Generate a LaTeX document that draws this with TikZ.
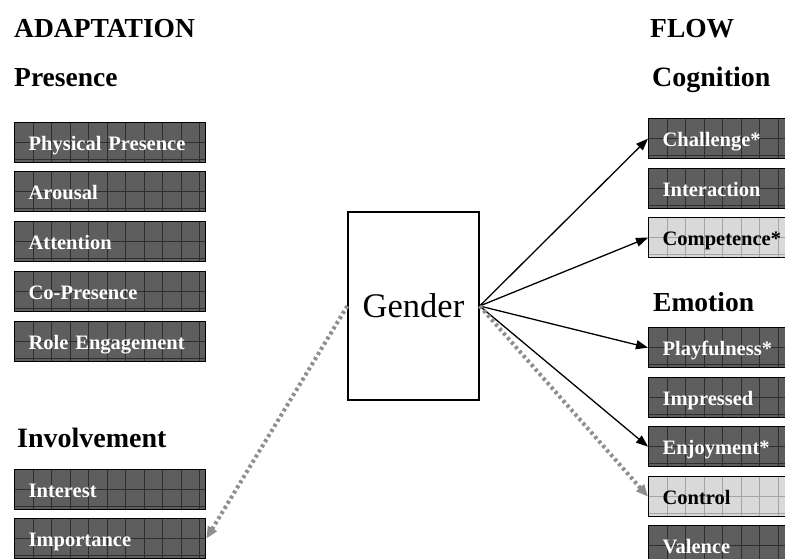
\documentclass[tikz,border=0pt]{standalone}
\usepackage{fontspec}
\setmainfont{Liberation Serif}
\usepackage{tikz}
\usetikzlibrary{arrows.meta}

\definecolor{boxdark}{HTML}{5E5E5E}
\definecolor{griddark}{HTML}{2E2E2E}
\definecolor{boxlight}{HTML}{D9D9D9}
\definecolor{gridlight}{HTML}{A4A4A4}
\definecolor{dotgray}{HTML}{8E8E8E}

\newcommand\gridlines[1]{%
  \foreach \i in {1,...,11}
    \draw[#1, line width=0.7pt] ([xshift=\i*18.5pt]path picture bounding box.north west)
      -- ([xshift=\i*18.5pt]path picture bounding box.south west);
  \draw[#1, line width=0.7pt] (path picture bounding box.west) -- (path picture bounding box.east);
  \draw[#1, line width=0.7pt] ([yshift=3pt]path picture bounding box.south west)
    -- ([yshift=3pt]path picture bounding box.south east);
}

\tikzset{
  heading/.style={anchor=base west, inner sep=0pt, font=\fontsize{27.5}{30}\selectfont\bfseries},
  gridbox/.style={draw=black, line width=1.3pt, anchor=north west, align=left,
    minimum height=40pt, inner xsep=14pt, inner ysep=0pt,
    text height=16pt, text depth=0pt, font=\fontsize{20.5}{24}\selectfont\bfseries},
  darkbox/.style={gridbox, fill=boxdark, text=white, path picture={\gridlines{griddark}}},
  lightbox/.style={gridbox, fill=boxlight, text=black, path picture={\gridlines{gridlight}}},
  leftbox/.style={text width=163pt},
  rightbox/.style={text width=122pt},
  effect/.style={-{Triangle[length=12pt,width=9pt]}, line width=1.3pt},
  noeffect/.style={-{Triangle[length=12pt,width=10pt]}, draw=dotgray, line width=4pt,
    dash pattern=on 3pt off 3pt},
}

\begin{document}
\begin{tikzpicture}[x=1pt,y=-1pt]
        \useasboundingbox (0,0) rectangle (785,559);
        \clip (0,0) rectangle (785,559);

        % headings
        \node[heading] (hadapt) at (14,38) {ADAPTATION};
        \node[heading] (hpres) at (14,87) {Presence};
        \node[heading, font=\fontsize{28}{30}\selectfont\bfseries] (hinv) at (17,447) {Involvement};
        \node[heading] (hflow) at (650,38) {FLOW};
        \node[heading, font=\fontsize{28}{30}\selectfont\bfseries] (hcog) at (652,87) {Cognition};
        \node[heading] (hemo) at (653,311) {Emotion};

        % adaptation boxes
        \node[darkbox, leftbox] (phys) at (14,122) {Physical Presence};
        \node[darkbox, leftbox] (arousal) at (14,171) {Arousal};
        \node[darkbox, leftbox] (attention) at (14,221) {Attention};
        \node[darkbox, leftbox] (copres) at (14,271) {Co-Presence};
        \node[darkbox, leftbox] (role) at (14,321) {Role Engagement};
        \node[darkbox, leftbox] (interest) at (14,469) {Interest};
        \node[darkbox, leftbox] (importance) at (14,518) {Importance};

        % flow boxes
        \node[darkbox, rightbox] (challenge) at (648,118) {Challenge*};
        \node[darkbox, rightbox] (interaction) at (648,168) {Interaction};
        \node[lightbox, rightbox] (competence) at (648,217) {Competence*};
        \node[darkbox, rightbox] (playful) at (648,327) {Playfulness*};
        \node[darkbox, rightbox] (impressed) at (648,377) {Impressed};
        \node[darkbox, rightbox] (enjoy) at (648,426) {Enjoyment*};
        \node[lightbox, rightbox] (control) at (648,476) {Control};
        \node[darkbox, rightbox] (valence) at (648,525) {Valence};

        % gender
        \node[draw, line width=1.3pt, minimum width=131pt, minimum height=188pt,
              inner sep=0pt, font=\fontsize{34.5}{36}\selectfont] (gender) at (413.5,306) {Gender};

        \draw[effect] (gender.east) -- (challenge.west);
        \draw[effect] (gender.east) -- (competence.west);
        \draw[effect] (gender.east) -- (playful.west);
        \draw[effect] (gender.east) -- (enjoy.west);
        \draw[noeffect] (gender.east) -- (control.west);
        \draw[noeffect] (gender.west) -- (importance.east);
    \end{tikzpicture}
\end{document}
